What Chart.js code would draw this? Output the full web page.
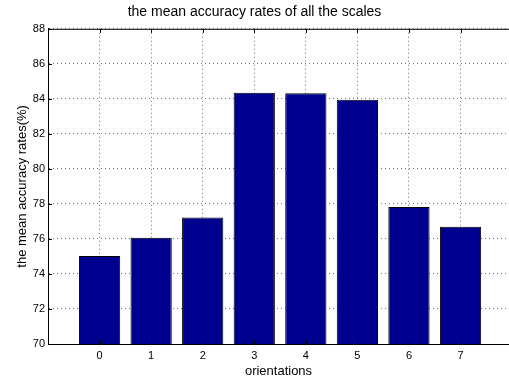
<!DOCTYPE html>
<html>
<head>
<meta charset="utf-8">
<script src="https://cdn.jsdelivr.net/npm/chart.js@4/dist/chart.umd.min.js"></script>
<style>
  html, body { margin: 0; padding: 0; background: #fff; }
  #wrap { width: 509px; height: 381px; }
</style>
</head>
<body>
<div id="wrap"><canvas id="chart"></canvas></div>
<script>
/* ---------- Data ---------- */
const orientations = [0, 1, 2, 3, 4, 5, 6, 7];
const accuracy = [75.03, 76.07, 77.23, 84.35, 84.32, 83.95, 77.82, 76.70];
const yTicks = [70, 72, 74, 76, 78, 80, 82, 84, 86, 88];

const FONT = '"Liberation Sans", Arial, Helvetica, sans-serif';

/* ---------- Matlab-style box top + inward ticks ---------- */
const boxPlugin = {
  id: 'box',
  afterDatasetsDraw(chart) {
    const { ctx, chartArea: a, scales } = chart;
    ctx.save();
    ctx.strokeStyle = '#000';
    ctx.lineWidth = 1;
    ctx.beginPath();
    ctx.moveTo(a.left, a.top + 0.5);
    ctx.lineTo(a.right, a.top + 0.5);
    orientations.forEach(v => {
      const x = Math.round(scales.x.getPixelForValue(v)) + 0.5;
      ctx.moveTo(x, a.bottom); ctx.lineTo(x, a.bottom - 4);
      ctx.moveTo(x, a.top); ctx.lineTo(x, a.top + 4);
    });
    yTicks.forEach(v => {
      const y = Math.round(scales.y.getPixelForValue(v)) + 0.5;
      ctx.moveTo(a.left, y); ctx.lineTo(a.left + 4, y);
    });
    ctx.stroke();
    ctx.restore();
  }
};

/* ---------- Chart ---------- */
new Chart(document.getElementById('chart'), {
  type: 'bar',
  data: {
    datasets: [{
      data: orientations.map((o, i) => ({ x: o, y: accuracy[i] })),
      backgroundColor: '#00008f',
      borderColor: '#000',
      borderWidth: 1,
      borderSkipped: false,
      barPercentage: 0.8,
      categoryPercentage: 1,
    }],
  },
  options: {
    responsive: true,
    maintainAspectRatio: false,
    animation: false,
    layout: { padding: 0 },
    plugins: {
      legend: { display: false },
      tooltip: { enabled: false },
      title: {
        display: true,
        text: 'the mean accuracy rates of all the scales',
        color: '#000',
        font: { family: FONT, size: 14, weight: 'normal' },
        padding: { top: 4, bottom: 8 },
      },
    },
    scales: {
      x: {
        type: 'linear',
        min: -1,
        max: 7.94,
        offset: false,
        afterBuildTicks(scale) {
          scale.ticks = orientations.map(v => ({ value: v }));
        },
        afterFit(scale) { scale.height = 37; },
        grid: { color: 'rgba(0,0,0,0.55)', drawTicks: false, offset: false },
        border: { display: true, color: '#000', width: 1, dash: [1, 3] },
        ticks: {
          color: '#000',
          padding: 5,
          maxRotation: 0,
          font: { family: FONT, size: 11 },
          callback: v => String(v),
        },
        title: {
          display: true,
          text: 'orientations',
          color: '#000',
          font: { family: FONT, size: 13 },
          padding: { top: 0, bottom: 2 },
        },
      },
      y: {
        min: 70,
        max: 88,
        afterBuildTicks(scale) {
          scale.ticks = yTicks.map(v => ({ value: v }));
        },
        afterFit(scale) { scale.width = 48; },
        grid: { color: 'rgba(0,0,0,0.55)', drawTicks: false },
        border: { display: true, color: '#000', width: 1, dash: [1, 3] },
        ticks: {
          color: '#000',
          padding: 3,
          font: { family: FONT, size: 11 },
        },
        title: {
          display: true,
          text: 'the mean accuracy rates(%)',
          color: '#000',
          font: { family: FONT, size: 13 },
          padding: { top: 15, bottom: 0 },
        },
      },
    },
  },
  plugins: [boxPlugin],
});
</script>
</body>
</html>
